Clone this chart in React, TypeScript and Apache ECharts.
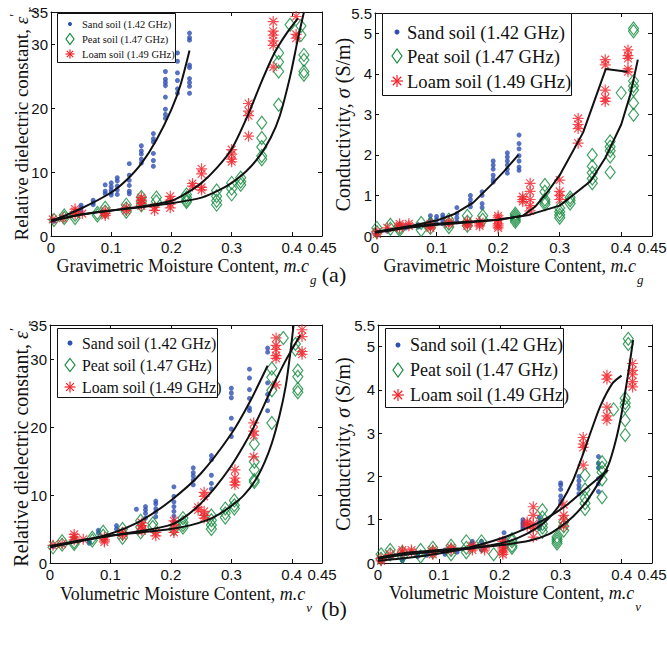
import React, { useEffect, useRef } from "react";
import * as echarts from "echarts";

type Col = [number, number[]];
type Pt = [number, number];

const SAND = "Sand soil (1.42 GHz)";
const PEAT = "Peat soil (1.47 GHz)";
const LOAM = "Loam soil (1.49 GHz)";

// x tick labels (shared), y tick labels
const xTicks = [0, 0.1, 0.2, 0.3, 0.4, 0.45];
const epsTicks = [0, 10, 20, 30, 35];
const sigTicks = [0, 1, 2, 3, 4, 5, 5.5];

// ---------- (a) Gravimetric, dielectric constant ----------
const sandGravEps: Col[] = [
  [0.005, [2.5, 2.3]], [0.05, [4.8, 4.4, 3.9]], [0.07, [5.6, 5.2, 4.9]], [0.09, [8.0, 7.0, 6.6]],
  [0.1, [8.3, 7.7, 7.2, 6.8, 6.4]], [0.11, [9.1, 8.6, 7.8, 7.2, 6.5]], [0.13, [11.3, 9.5, 8.7, 7.9, 7.0, 6.6]],
  [0.15, [14.1, 13.3, 12.8, 12.0, 11.4]], [0.17, [16.0, 15.2, 14.7, 12.9, 11.8, 10.9]],
  [0.19, [25.7, 24.5, 24.0, 23.5, 21.7, 19.8, 19.0, 18.4]], [0.21, [28.6, 27.3, 25.5, 24.3, 23.0, 22.3]],
  [0.23, [31.7, 31.0, 30.6, 26.7, 26.3, 24.6, 24.0, 23.4, 22.3]],
];
const peatGravEps: Col[] = [
  [0.005, [2.5]], [0.022, [3.2, 2.8]], [0.04, [3.3, 2.8]], [0.077, [3.6, 3.2]], [0.09, [4.4, 3.8]],
  [0.125, [4.9, 4.3, 3.8]], [0.15, [6.1, 5.4, 4.8]], [0.175, [6.0, 5.4]], [0.225, [6.5, 6.0, 5.6, 5.3]],
  [0.275, [7.1, 6.2, 5.5, 4.9]], [0.3, [8.3, 7.4, 6.5]], [0.315, [9.1, 8.5, 8.0]],
  [0.35, [17.7, 15.3, 13.9, 12.5, 12.0]], [0.378, [28.6, 27.2, 25.7, 20.5]], [0.397, [33.0]],
  [0.415, [32.8, 31.4]], [0.42, [28.3, 27.5, 25.7, 25.2]],
];
const loamGravEps: Col[] = [
  [0.003, [2.6]], [0.02, [2.8]], [0.04, [4.2, 3.8, 3.4]], [0.052, [3.5]], [0.09, [3.9, 3.5, 3.2]],
  [0.125, [4.4, 4.0]], [0.15, [6.0, 5.6, 5.1, 4.7]], [0.172, [4.5, 4.0]], [0.198, [6.2, 5.6, 5.0, 4.4]],
  [0.235, [8.2, 7.8]], [0.25, [10.5, 9.7, 7.6, 7.2]], [0.3, [13.5, 12.8, 12.0, 11.6]],
  [0.328, [20.7, 19.5, 18.8, 15.6]], [0.369, [33.5, 32.0, 31.4, 30.5, 29.8, 26.4]], [0.407, [34.3, 31.5, 30.9]],
];
const sandGravEpsFit: Pt[] = [
  [0, 2.3], [0.05, 4.3], [0.1, 6.8], [0.125, 8.7], [0.15, 11.3], [0.175, 15.0], [0.2, 19.8], [0.215, 23.6], [0.23, 29.0],
];
const peatGravEpsFit: Pt[] = [
  [0, 2.3], [0.05, 3.4], [0.1, 4.0], [0.15, 4.5], [0.2, 5.1], [0.25, 6.0], [0.28, 7.2], [0.3, 8.3],
  [0.325, 10.2], [0.347, 12.6], [0.365, 15.4], [0.38, 18.8], [0.397, 24.9], [0.41, 30.8], [0.42, 35],
];
const loamGravEpsFit: Pt[] = [
  [0, 2.5], [0.05, 3.3], [0.1, 4.0], [0.15, 4.6], [0.2, 5.5], [0.225, 6.7], [0.25, 8.3], [0.275, 10.6],
  [0.3, 13.6], [0.327, 18.9], [0.35, 24.2], [0.37, 28.4], [0.39, 31.5], [0.41, 34.0],
];

// ---------- (a) Gravimetric, conductivity ----------
const sandGravSig: Col[] = [
  [0.003, [0.1, 0.05]], [0.02, [0.15, 0.12]], [0.05, [0.25, 0.2]], [0.07, [0.28, 0.22]],
  [0.09, [0.5, 0.4, 0.3]], [0.1, [0.48, 0.4, 0.3]], [0.11, [0.52, 0.45, 0.38, 0.3]],
  [0.133, [0.7, 0.55, 0.45, 0.35]], [0.155, [1.0, 0.9, 0.8, 0.72]], [0.174, [1.09, 1.0, 0.8, 0.7]],
  [0.192, [1.85, 1.75, 1.65, 1.5, 1.4, 1.33]], [0.215, [2.05, 1.95, 1.85, 1.75, 1.65, 1.55]],
  [0.234, [2.49, 2.28, 2.15, 1.98, 1.85, 1.7, 1.62]],
];
const peatGravSig: Col[] = [
  [0.003, [0.2, 0.1]], [0.025, [0.28, 0.18]], [0.04, [0.2, 0.15]], [0.075, [0.32, 0.15]], [0.09, [0.3, 0.2]],
  [0.12, [0.4, 0.3, 0.22]], [0.15, [0.5, 0.35, 0.25]], [0.175, [0.5, 0.4]], [0.228, [0.55, 0.5, 0.45, 0.4, 0.35]],
  [0.276, [1.26, 1.09, 0.9, 0.84, 0.78]], [0.3, [0.69, 0.6, 0.52, 0.45]], [0.317, [0.95, 0.88, 0.8]],
  [0.353, [2.0, 1.72, 1.56, 1.42, 1.3]], [0.382, [2.33, 2.2, 2.1, 1.96, 1.57]], [0.4, [3.53]],
  [0.42, [5.12, 5.05, 3.82, 3.7, 3.6, 3.28, 2.99]],
];
const loamGravSig: Col[] = [
  [0.003, [0.1, 0.05]], [0.02, [0.2]], [0.04, [0.3, 0.25, 0.2]], [0.055, [0.3, 0.25]], [0.09, [0.3, 0.25, 0.2]],
  [0.12, [0.35, 0.3]], [0.15, [0.35, 0.3, 0.25]], [0.17, [0.35, 0.3, 0.25]], [0.2, [0.5, 0.45, 0.4, 0.3, 0.25, 0.2]],
  [0.24, [0.97, 0.9, 0.85]], [0.252, [1.3, 1.1, 0.9, 0.75, 0.62]], [0.3, [1.38, 1.1, 1.0, 0.9]],
  [0.33, [2.9, 2.75, 2.65, 2.29]], [0.374, [4.35, 4.22, 3.6, 3.4, 3.32]], [0.411, [4.59, 4.45, 4.38, 4.12, 4.05]],
];
const sandGravSigFit: Pt[] = [
  [0, 0.1], [0.05, 0.22], [0.1, 0.38], [0.13, 0.55], [0.16, 0.83], [0.19, 1.28], [0.21, 1.6], [0.233, 2.0],
];
const peatGravSigFit: Pt[] = [
  [0, 0.1], [0.05, 0.22], [0.1, 0.3], [0.15, 0.35], [0.2, 0.4], [0.25, 0.52], [0.3, 0.75], [0.35, 1.35],
  [0.375, 1.95], [0.4, 2.75], [0.415, 3.5], [0.427, 4.35],
];
const loamGravSigFit: Pt[] = [
  [0, 0.08], [0.05, 0.2], [0.1, 0.28], [0.15, 0.33], [0.2, 0.4], [0.24, 0.5], [0.26, 0.72], [0.28, 1.08],
  [0.3, 1.5], [0.338, 2.55], [0.375, 4.12], [0.41, 4.05],
];

// ---------- (b) Volumetric, dielectric constant ----------
const sandVolEps: Col[] = [
  [0.005, [2.4]], [0.065, [3.2, 2.9]], [0.08, [4.8, 4.4]], [0.11, [5.5, 5.0]], [0.143, [7.9]],
  [0.158, [8.3, 7.8, 7.3, 6.6]], [0.175, [9.1, 8.7, 8.0, 7.5, 6.8]], [0.205, [11.2, 9.8, 9.0, 8.3, 7.6, 6.9, 6.2]],
  [0.237, [14.0, 13.3, 12.8, 12.2, 11.5]], [0.267, [15.8, 15.2, 12.9, 11.7, 10.9]],
  [0.3, [25.7, 25.0, 24.3, 21.3, 19.7, 18.6]], [0.33, [28.5, 27.2, 25.5, 24.2, 22.8, 22.4]],
  [0.36, [31.6, 31.0, 26.5, 24.8, 23.9, 22.4]],
];
const peatVolEps: Col[] = [
  [0.005, [2.3]], [0.02, [3.2, 2.7]], [0.04, [3.1, 2.8]], [0.07, [3.7, 3.3]], [0.088, [4.6, 4.0]],
  [0.12, [5.0, 4.3, 3.7]], [0.15, [6.2, 5.3, 4.5]], [0.17, [5.8, 5.3]], [0.205, [5.0]], [0.22, [6.6, 6.0, 5.6, 5.2]],
  [0.267, [7.0, 6.3, 5.6, 5.0]], [0.29, [8.0, 7.3, 6.7]], [0.305, [9.2, 8.5, 8.0]],
  [0.338, [17.5, 14.9, 13.7, 12.2, 11.9]], [0.367, [28.6, 27.3, 25.4, 20.6]], [0.386, [33.1]],
  [0.406, [32.2, 31.4]], [0.41, [28.3, 27.4, 25.6, 25.1]],
];
const loamVolEps: Col[] = [
  [0.005, [2.6]], [0.02, [2.8]], [0.04, [4.2, 3.8, 3.4]], [0.055, [3.5]], [0.09, [3.8, 3.4, 3.1]],
  [0.12, [4.5, 4.0]], [0.152, [5.9, 5.5, 5.0, 4.7]], [0.175, [4.5, 4.0]], [0.205, [6.2, 5.6, 5.0, 4.5]],
  [0.245, [8.2, 7.8]], [0.255, [10.4, 9.8, 7.6, 7.0, 6.6]], [0.306, [13.7, 12.5, 11.9, 11.5]],
  [0.337, [20.6, 19.4, 18.8, 15.6]], [0.374, [33.1, 32.0, 31.4, 30.5, 30.1, 26.2]], [0.417, [34.3, 33.3, 31.1, 30.7]],
];
const sandVolEpsFit: Pt[] = [
  [0, 2.4], [0.05, 3.2], [0.1, 4.3], [0.15, 6.2], [0.2, 9.2], [0.25, 13.2], [0.3, 19.0], [0.33, 23.6], [0.36, 29.0],
];
const peatVolEpsFit: Pt[] = [
  [0, 2.3], [0.05, 3.3], [0.1, 4.0], [0.15, 4.5], [0.2, 5.0], [0.23, 5.5], [0.26, 6.3], [0.28, 7.2], [0.3, 8.4],
  [0.32, 9.9], [0.34, 12.2], [0.355, 14.8], [0.367, 17.6], [0.38, 21.8], [0.39, 26.0], [0.397, 30.5], [0.403, 35],
];
const loamVolEpsFit: Pt[] = [
  [0, 2.5], [0.05, 3.3], [0.1, 4.0], [0.15, 4.7], [0.2, 5.6], [0.225, 6.9], [0.25, 8.8], [0.275, 11.3],
  [0.3, 14.3], [0.32, 17.2], [0.336, 19.8], [0.35, 22.4], [0.367, 25.7], [0.39, 29.8], [0.414, 33.5],
];

// ---------- (b) Volumetric, conductivity ----------
const sandVolSig: Col[] = [
  [0.005, [0.1, 0.05]], [0.02, [0.12]], [0.04, [0.1, 0.05]], [0.065, [0.2, 0.15]], [0.08, [0.22, 0.18]],
  [0.11, [0.3, 0.25, 0.2]], [0.13, [0.3, 0.25]], [0.155, [0.5, 0.45, 0.35]], [0.17, [0.5, 0.4, 0.3]],
  [0.207, [0.7, 0.55, 0.45, 0.35]], [0.238, [1.0, 0.94, 0.9, 0.85, 0.8]], [0.265, [1.05, 0.95, 0.85, 0.8]],
  [0.3, [1.85, 1.8, 1.7, 1.55, 1.45, 1.38]], [0.33, [2.0, 1.9, 1.8, 1.72, 1.6]],
  [0.362, [2.46, 2.3, 2.2, 1.95, 1.83, 1.65]],
];
const peatVolSig: Col[] = [
  [0.005, [0.2, 0.1]], [0.02, [0.3, 0.2]], [0.04, [0.25, 0.15]], [0.07, [0.3, 0.15]], [0.09, [0.35, 0.25]],
  [0.12, [0.4, 0.3, 0.2]], [0.145, [0.5, 0.35, 0.25]], [0.17, [0.5, 0.4]], [0.19, [0.2]], [0.22, [0.55, 0.5, 0.4, 0.35]],
  [0.27, [1.22, 1.05, 0.9, 0.82, 0.72]], [0.294, [0.6, 0.55, 0.5, 0.45]], [0.305, [0.95, 0.85, 0.75]],
  [0.34, [2.03, 1.7, 1.5, 1.38, 1.25]], [0.368, [2.33, 2.2, 2.1, 1.93, 1.52]], [0.387, [3.55]],
  [0.406, [3.81, 3.7, 3.61, 3.3, 2.96]], [0.411, [5.18, 5.06]],
];
const loamVolSig: Col[] = [
  [0.005, [0.1, 0.05]], [0.02, [0.2]], [0.04, [0.3, 0.25]], [0.055, [0.3, 0.25]], [0.09, [0.3, 0.25, 0.2]],
  [0.12, [0.35, 0.3]], [0.155, [0.4, 0.35, 0.3]], [0.175, [0.35, 0.3]], [0.205, [0.5, 0.45, 0.35, 0.3, 0.25, 0.2]],
  [0.245, [0.95, 0.9, 0.85]], [0.255, [1.3, 1.1, 0.9, 0.8, 0.6]], [0.305, [1.35, 1.1, 1.0, 0.85]],
  [0.337, [2.9, 2.75, 2.67, 2.26]], [0.376, [4.34, 4.25, 3.6, 3.4, 3.3]], [0.418, [4.61, 4.45, 4.35, 4.19, 4.07]],
];
const sandVolSigFit: Pt[] = [
  [0, 0.05], [0.05, 0.12], [0.1, 0.22], [0.15, 0.36], [0.2, 0.56], [0.25, 0.84], [0.28, 1.06], [0.31, 1.34],
  [0.345, 1.76], [0.378, 2.15],
];
const peatVolSigFit: Pt[] = [
  [0, 0.12], [0.05, 0.24], [0.1, 0.3], [0.15, 0.35], [0.2, 0.41], [0.25, 0.52], [0.28, 0.66], [0.3, 0.84],
  [0.32, 1.07], [0.34, 1.38], [0.36, 1.8], [0.378, 2.25], [0.39, 2.8], [0.4, 3.45], [0.41, 4.3], [0.419, 5.15],
];
const loamVolSigFit: Pt[] = [
  [0, 0.1], [0.05, 0.2], [0.1, 0.27], [0.15, 0.33], [0.2, 0.45], [0.23, 0.58], [0.26, 0.8], [0.28, 1.03],
  [0.3, 1.38], [0.32, 1.9], [0.335, 2.45], [0.35, 3.05], [0.365, 3.62], [0.385, 4.15], [0.4, 4.33],
];

// ---------- styling ----------
const SERIF = "Liberation Serif";
const SANS = "Liberation Sans";
const BLUE = "#2e4fb3";
const GREEN = "#128a3c";
const RED = "#f0232b";
const INK = "#111111";
const ASTERISK = "path://M0 5L10 5M5 0L5 10M1.46 1.46L8.54 8.54M8.54 1.46L1.46 8.54";

const expand = (cols: Col[]): Pt[] => cols.flatMap(([x, ys]) => ys.map((y) => [x, y] as Pt));

interface Panel {
  grid: { left: number; top: number; width: number; height: number };
  yMax: number;
  yTicks: number[];
  xName: string;
  yName: string;
  xGap: number;
  yGap: number;
  yFont: number;
  sand: Col[]; peat: Col[]; loam: Col[];
  sandFit: Pt[]; peatFit: Pt[]; loamFit: Pt[];
  smooth: boolean;
  legend: { x: number; y: number; w: number; h: number; rows: number[]; mx: number; tx: number; font: number; dot: number; dia: [number, number]; ast: number };
}

const EPS_NAME = "Relative dielectric constant, {it|ε}{sup|′}{sub|r}";
const SIG_NAME = "Conductivity, {it|σ} (S/m)";

const panels: Panel[] = [
  {
    grid: { left: 51, top: 12, width: 271, height: 224 }, yMax: 35, yTicks: epsTicks,
    xName: "Gravimetric Moisture Content, {it|m.c}{sub|g}", yName: EPS_NAME, xGap: 21, yGap: 20, yFont: 19,
    sand: sandGravEps, peat: peatGravEps, loam: loamGravEps,
    sandFit: sandGravEpsFit, peatFit: peatGravEpsFit, loamFit: loamGravEpsFit, smooth: true,
    legend: { x: 57, y: 13, w: 118, h: 49, rows: [24, 39, 54], mx: 70, tx: 82, font: 10.5, dot: 2, dia: [8, 11], ast: 9 },
  },
  {
    grid: { left: 375, top: 13, width: 277, height: 223 }, yMax: 5.5, yTicks: sigTicks,
    xName: "Gravimetric Moisture Content, {it|m.c}{sub|g}", yName: SIG_NAME, xGap: 21, yGap: 22, yFont: 20,
    sand: sandGravSig, peat: peatGravSig, loam: loamGravSig,
    sandFit: sandGravSigFit, peatFit: peatGravSigFit, loamFit: loamGravSigFit, smooth: false,
    legend: { x: 382, y: 13, w: 189, h: 82, rows: [32, 56, 81], mx: 397, tx: 407, font: 18.6, dot: 2.5, dia: [10, 14], ast: 12 },
  },
  {
    grid: { left: 50, top: 325, width: 272, height: 238 }, yMax: 35, yTicks: epsTicks,
    xName: "Volumetric Moisture Content, {it|m.c}{sub|v}", yName: EPS_NAME, xGap: 22, yGap: 19, yFont: 20,
    sand: sandVolEps, peat: peatVolEps, loam: loamVolEps,
    sandFit: sandVolEpsFit, peatFit: peatVolEpsFit, loamFit: loamVolEpsFit, smooth: true,
    legend: { x: 57, y: 328, w: 160, h: 69, rows: [343, 365, 387], mx: 70, tx: 82, font: 15.8, dot: 2.5, dia: [10, 13], ast: 11 },
  },
  {
    grid: { left: 378, top: 325, width: 274, height: 238 }, yMax: 5.5, yTicks: sigTicks,
    xName: "Volumetric Moisture Content, {it|m.c}{sub|v}", yName: SIG_NAME, xGap: 21, yGap: 25, yFont: 20,
    sand: sandVolSig, peat: peatVolSig, loam: loamVolSig,
    sandFit: sandVolSigFit, peatFit: peatVolSigFit, loamFit: loamVolSigFit, smooth: true,
    legend: { x: 385, y: 328, w: 178, h: 79, rows: [345, 370, 395], mx: 398, tx: 410, font: 18, dot: 2.5, dia: [10, 14], ast: 12 },
  },
];

const titleRich = (size: number, subPad: number) => ({
  it: { fontFamily: SERIF, fontStyle: "italic", fontSize: size, color: INK },
  sub: { fontFamily: SERIF, fontStyle: "italic", fontSize: size * 0.72, color: INK, padding: [subPad, 0, 0, 1] },
  sup: { fontFamily: SERIF, fontSize: size * 0.72, color: INK, padding: [0, 0, 12, 0] },
});

function buildOption() {
  const grid: any[] = [];
  const xAxis: any[] = [];
  const yAxis: any[] = [];
  const series: any[] = [];
  const graphic: any[] = [];

  panels.forEach((p, g) => {
    grid.push({ ...p.grid, containLabel: false, outerBoundsMode: "none" });
    const line = { show: true, onZero: false, lineStyle: { color: INK, width: 1 } };
    const tickX = { show: true, inside: true, length: 4, customValues: xTicks, lineStyle: { color: INK } };
    const tickY = { show: true, inside: true, length: 4, customValues: p.yTicks, lineStyle: { color: INK } };
    xAxis.push({
      gridIndex: g, type: "value", min: 0, max: 0.45, position: "bottom",
      axisLine: line, axisTick: tickX, splitLine: { show: false },
      axisLabel: { customValues: xTicks, fontFamily: SANS, fontSize: 15, lineHeight: 15, color: INK, margin: 4 },
      name: p.xName, nameLocation: "middle", nameGap: p.xGap, nameMoveOverlap: false,
      nameTextStyle: { fontFamily: SERIF, fontSize: 18, color: INK, lineHeight: 18, rich: titleRich(18, 26) },
    });
    xAxis.push({
      gridIndex: g, type: "value", min: 0, max: 0.45, position: "top",
      axisLine: line, axisTick: tickX, axisLabel: { show: false }, splitLine: { show: false },
    });
    yAxis.push({
      gridIndex: g, type: "value", min: 0, max: p.yMax, position: "left",
      axisLine: line, axisTick: tickY, splitLine: { show: false },
      axisLabel: { customValues: p.yTicks, fontFamily: SANS, fontSize: 15, color: INK, margin: 3 },
      name: p.yName, nameLocation: "middle", nameGap: p.yGap, nameRotate: 90, nameMoveOverlap: false,
      nameTextStyle: { fontFamily: SERIF, fontSize: p.yFont, color: INK, lineHeight: 20, rich: titleRich(p.yFont, 20) },
    });
    yAxis.push({
      gridIndex: g, type: "value", min: 0, max: p.yMax, position: "right",
      axisLine: line, axisTick: tickY, axisLabel: { show: false }, splitLine: { show: false },
    });

    const ax = { xAxisIndex: 2 * g, yAxisIndex: 2 * g };
    series.push({
      type: "scatter", name: SAND, ...ax, data: expand(p.sand), symbol: "circle", symbolSize: 5,
      itemStyle: { color: BLUE }, z: 2, silent: true,
    });
    series.push({
      type: "scatter", name: PEAT, ...ax, data: expand(p.peat), symbol: "diamond", symbolSize: [10, 13],
      itemStyle: { color: "transparent", borderColor: GREEN, borderWidth: 1.2 }, z: 2, silent: true,
    });
    series.push({
      type: "scatter", name: LOAM, ...ax, data: expand(p.loam), symbol: ASTERISK, symbolSize: 11,
      itemStyle: { color: RED, borderColor: RED, borderWidth: 1.2 }, z: 2, silent: true,
    });
    [p.sandFit, p.peatFit, p.loamFit].forEach((fit, k) => {
      series.push({
        type: "line", name: [SAND, PEAT, LOAM][k] + " fit", ...ax, data: fit, showSymbol: false, symbol: "none",
        smooth: p.smooth ? 0.25 : false,
        lineStyle: { color: INK, width: 2 }, z: 4, silent: true,
      });
    });

    // legend box
    const L = p.legend;
    graphic.push({
      type: "rect", z: 100, shape: { x: L.x + 0.5, y: L.y + 0.5, width: L.w, height: L.h },
      style: { fill: "#fff", stroke: INK, lineWidth: 1 },
    });
    [SAND, PEAT, LOAM].forEach((name, i) => {
      const cy = L.rows[i];
      graphic.push({
        type: "text", z: 101, x: L.tx, y: cy,
        style: { text: name, fontFamily: SERIF, fontSize: L.font, fill: INK, align: "left", verticalAlign: "middle" },
      });
      if (i === 0) {
        graphic.push({ type: "circle", z: 101, shape: { cx: L.mx, cy, r: L.dot }, style: { fill: BLUE } });
      } else if (i === 1) {
        const [w, h] = L.dia;
        graphic.push({
          type: "polygon", z: 101,
          shape: { points: [[L.mx, cy - h / 2], [L.mx + w / 2, cy], [L.mx, cy + h / 2], [L.mx - w / 2, cy]] },
          style: { fill: "none", stroke: GREEN, lineWidth: 1.2 },
        });
      } else {
        const r = L.ast / 2;
        const d = r * 0.707;
        [[-r, 0, r, 0], [0, -r, 0, r], [-d, -d, d, d], [d, -d, -d, d]].forEach(([a, b, c, e]) => {
          graphic.push({
            type: "line", z: 101, shape: { x1: L.mx + a, y1: cy + b, x2: L.mx + c, y2: cy + e },
            style: { stroke: RED, lineWidth: 1.2 },
          });
        });
      }
    });
  });

  graphic.push({
    type: "text", z: 101, x: 334, y: 274,
    style: { text: "(a)", fontFamily: SERIF, fontSize: 22, fill: INK, align: "center", verticalAlign: "middle" },
  });
  graphic.push({
    type: "text", z: 101, x: 334, y: 608,
    style: { text: "(b)", fontFamily: SERIF, fontSize: 22, fill: INK, align: "center", verticalAlign: "middle" },
  });

  return { animation: false, backgroundColor: "#fff", textStyle: { fontFamily: SERIF }, grid, xAxis, yAxis, series, graphic };
}

export default function App() {
  const ref = useRef<HTMLDivElement>(null);
  useEffect(() => {
    if (!ref.current) return;
    const chart = echarts.init(ref.current, undefined, { renderer: "svg" });
    chart.setOption(buildOption() as any);
    return () => chart.dispose();
  }, []);
  return (
    <div
      ref={ref}
      style={{ position: "fixed", left: 0, top: 0, width: 667, height: 646, background: "#fff" }}
    />
  );
}
